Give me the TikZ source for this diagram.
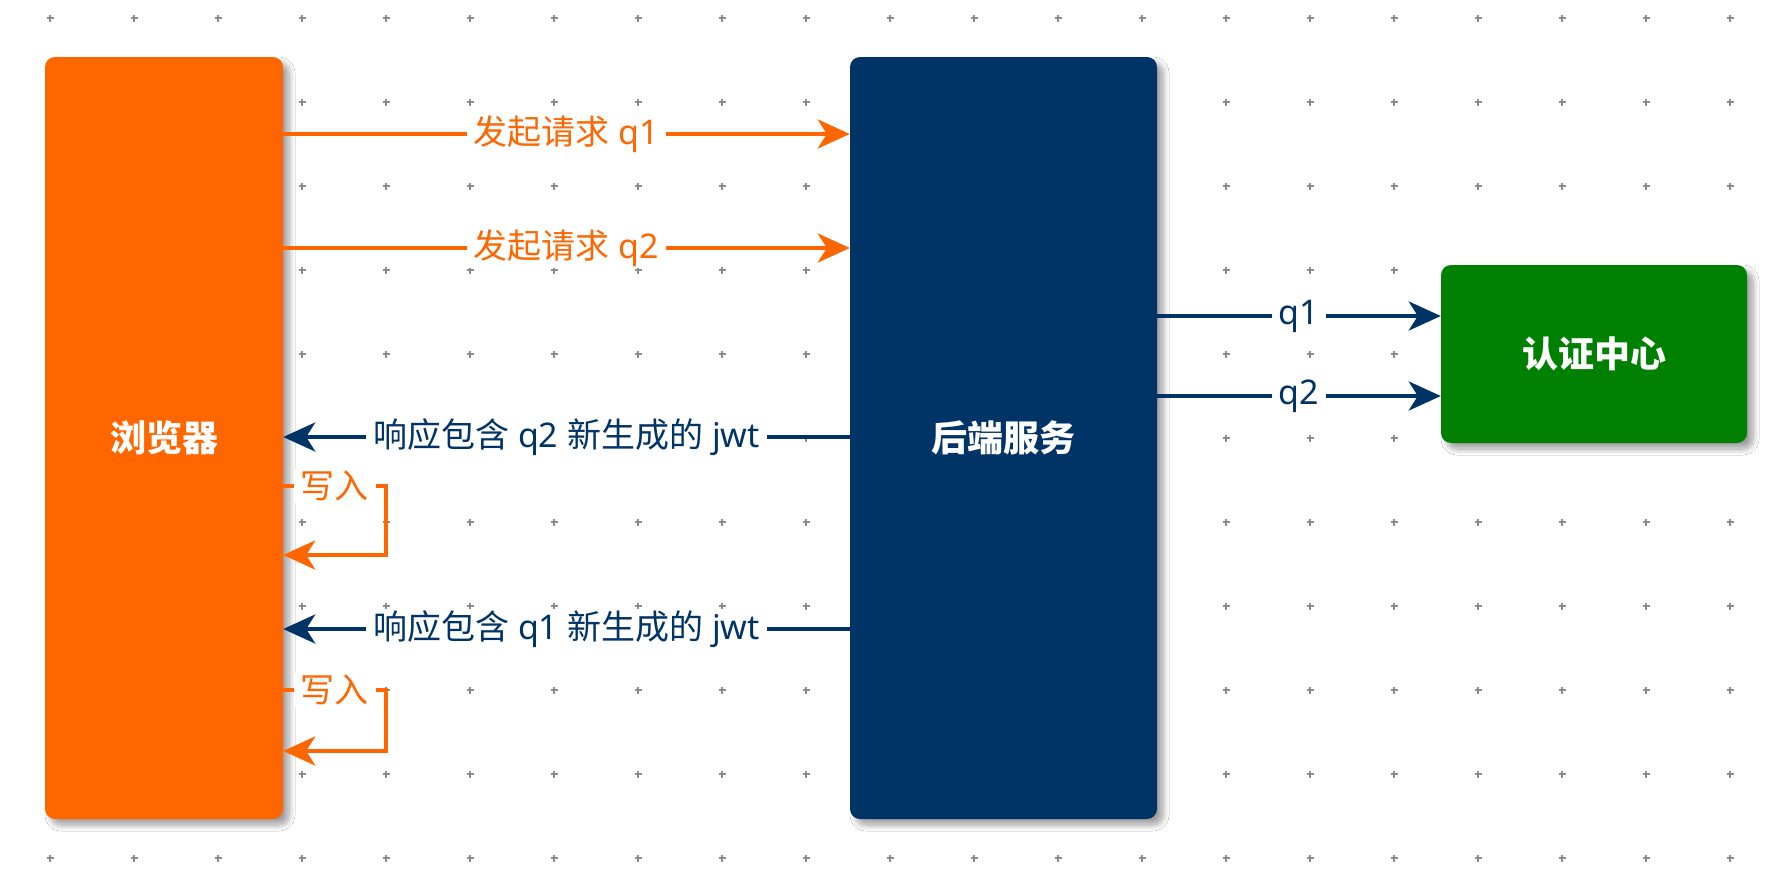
\documentclass[tikz,border=0pt]{standalone}
\usepackage{fontspec}
\setmainfont{Noto Sans}
\newfontfamily\cjk{Noto Sans CJK SC}
\usetikzlibrary{arrows.meta,shadows.blur,calc}
\definecolor{cOr}{HTML}{FF6600}
\definecolor{cNavy}{HTML}{003366}
\definecolor{cGreen}{HTML}{008000}
\definecolor{cDot}{HTML}{8C8C8C}
\begin{document}
\begin{tikzpicture}[x=1pt,y=-1pt,
  box/.style={rounded corners=10pt, text=white, inner sep=0pt,
    font=\cjk\fontsize{36}{40}\selectfont\bfseries,
    blur shadow={shadow xshift=6pt, shadow yshift=-6pt, shadow blur radius=6pt, shadow blur steps=12, shadow opacity=38}},
  tipA/.style={-{Stealth[length=32pt,width=29pt,inset=9pt]}},
  oarrow/.style={draw=cOr, line width=4pt, tipA},
  narrow/.style={draw=cNavy, line width=4pt, tipA},
  lbl/.style={fill=white, inner xsep=7pt, inner ysep=2pt, font=\fontsize{34}{37}\selectfont},
  olbl/.style={lbl, text=cOr},
  nlbl/.style={lbl, text=cNavy},
  gridmark/.style={draw=cDot, line width=1.3pt}
]
\useasboundingbox[fill=white] (0,0) rectangle (1790,870);
% dot grid
\foreach \i in {0,...,20}{
  \foreach \j in {0,...,10}{
    \draw[gridmark] (50+84*\i-3.5, 18+84*\j) -- (50+84*\i+3.5, 18+84*\j)
                    (50+84*\i, 18+84*\j-3.5) -- (50+84*\i, 18+84*\j+3.5);
  }
}
% boxes
\node[box, fill=cOr, minimum width=238pt, minimum height=762pt] (browser) at (164,438) {浏览器};
\node[box, fill=cNavy, minimum width=307pt, minimum height=762pt] (backend) at (1003.5,438) {后端服务};
\node[box, fill=cGreen, minimum width=306pt, minimum height=178pt] (auth) at (1594,354) {认证中心};
% requests
\draw[oarrow] (browser.east |- 0,134) -- node[olbl] {{\cjk 发起请求} q1} (backend.west |- 0,134);
\draw[oarrow] (browser.east |- 0,248) -- node[olbl] {{\cjk 发起请求} q2} (backend.west |- 0,248);
% backend to auth
\draw[narrow] (backend.east |- 0,316) -- node[nlbl] {q1} (auth.west |- 0,316);
\draw[narrow] (backend.east |- 0,396) -- node[nlbl] {q2} (auth.west |- 0,396);
% responses
\draw[narrow] (backend.west |- 0,437) -- node[nlbl] {{\cjk 响应包含} q2 {\cjk 新生成的} jwt} (browser.east |- 0,437);
\draw[oarrow] (browser.east |- 0,486) -- node[olbl, inner xsep=7pt] {\cjk 写入} (386,486) -- (386,555) -- (browser.east |- 0,555);
\draw[narrow] (backend.west |- 0,629) -- node[nlbl] {{\cjk 响应包含} q1 {\cjk 新生成的} jwt} (browser.east |- 0,629);
\draw[oarrow] (browser.east |- 0,690) -- node[olbl, inner xsep=7pt] {\cjk 写入} (386,690) -- (386,751) -- (browser.east |- 0,751);
\end{tikzpicture}
\end{document}
